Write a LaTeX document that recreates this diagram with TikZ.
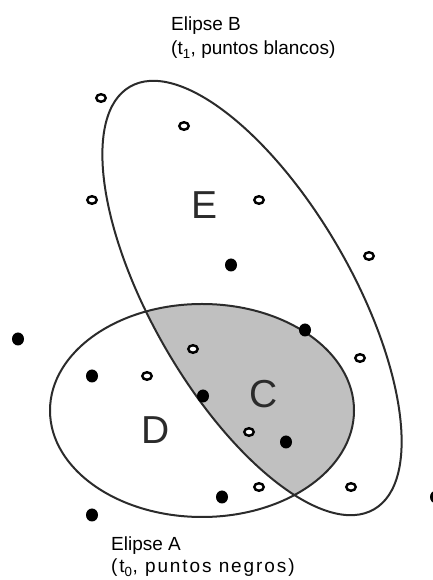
\documentclass[tikz,border=0pt]{standalone}
\usepackage{fontspec}
\setmainfont{Liberation Sans}
\usetikzlibrary{shapes}
\definecolor{trazo}{HTML}{2B2B2B}
\definecolor{interseccion}{HTML}{C0C0C0}

\begin{document}
\begin{tikzpicture}[x=1pt, y=1pt,
  negro/.style={ellipse, fill=black, minimum width=12pt, minimum height=13pt, inner sep=0pt},
  blanco/.style={ellipse, draw, fill=white, line width=2.4pt, minimum width=9.5pt, minimum height=7.5pt, inner sep=0pt},
  letra/.style={inner sep=0pt, text=trazo, font=\fontsize{39}{39}\selectfont},
  rotulo/.style={anchor=north west, inner sep=0pt, align=left, font=\fontsize{19}{24}\selectfont},
  borde/.style={line width=2pt, draw=trazo}
]
  \useasboundingbox (0,0) rectangle (432,580);
  \begin{scope}
    \clip (202,169.5) ellipse [x radius=152, y radius=106.5];
    \fill[interseccion] (252,282) ellipse [x radius=244, y radius=100, rotate=-60];
  \end{scope}
  \draw[borde] (202,169.5) ellipse [x radius=152, y radius=106.5];
  \draw[borde] (252,282) ellipse [x radius=244, y radius=100, rotate=-60];

  \node[letra] (E) at (204.5,375) {E};
  \node[letra] (D) at (156,150) {D};
  \node[letra] (C) at (264,186) {C};

  \node[blanco] (b1) at (101,482) {};
  \node[blanco] (b2) at (184,454) {};
  \node[blanco] (b3) at (92,380) {};
  \node[blanco] (b4) at (259,380) {};
  \node[blanco] (b5) at (369,324) {};
  \node[blanco] (b6) at (193,231) {};
  \node[blanco] (b7) at (360,222) {};
  \node[blanco] (b8) at (147,204) {};
  \node[blanco] (b9) at (249,148) {};
  \node[blanco] (b10) at (259,93) {};
  \node[blanco] (b11) at (351,93) {};

  \node[negro] (n1) at (231,315) {};
  \node[negro] (n2) at (18,241) {};
  \node[negro] (n3) at (305,250) {};
  \node[negro] (n4) at (92,204) {};
  \node[negro] (n5) at (203,184) {};
  \node[negro] (n6) at (286,138) {};
  \node[negro] (n7) at (222,83) {};
  \node[negro] (n8) at (92,65) {};
  \node[negro] (n9) at (436,83) {};

  \node[rotulo] (elipseB) at (171,563) {Elipse B\\(t\textsubscript{1}, puntos blancos)};
  \node[rotulo, font=\fontsize{19}{22}\selectfont] (elipseA) at (111,43) {Elipse A\\{\addfontfeature{LetterSpace=10}(t\textsubscript{0}, puntos negros)}};
\end{tikzpicture}
\end{document}
